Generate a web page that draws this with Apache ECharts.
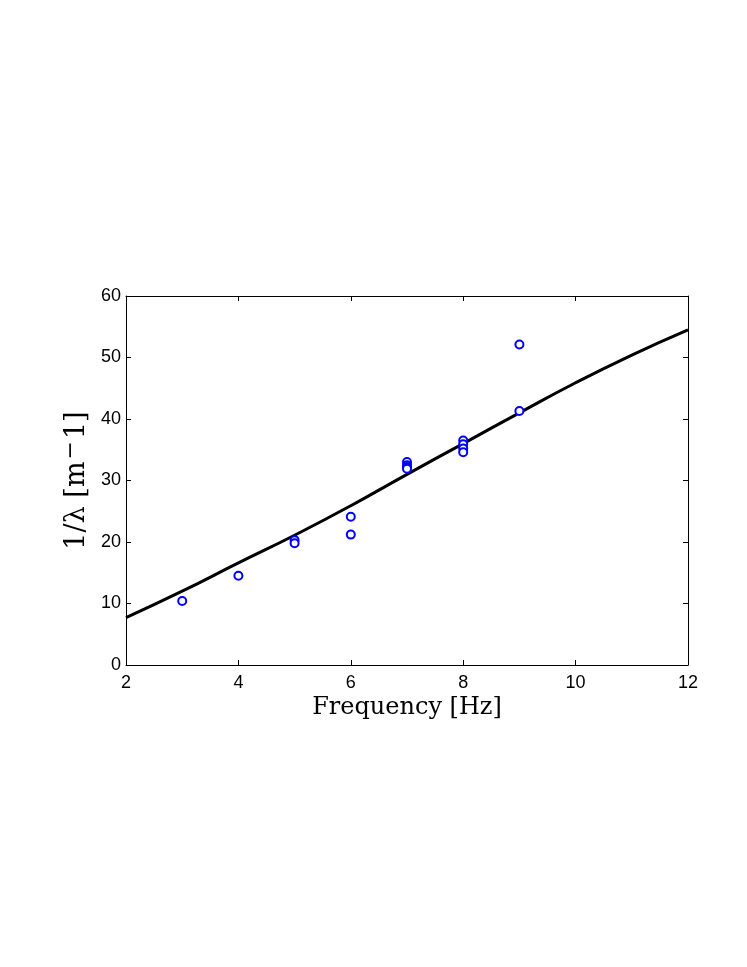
<!DOCTYPE html>
<html>
<head>
<meta charset="utf-8">
<script src="https://cdn.jsdelivr.net/npm/echarts@6/dist/echarts.min.js"></script>
<style>html,body{margin:0;padding:0;background:#fff;}#c{width:747px;height:967px;}</style>
</head>
<body>
<div id="c"></div>
<script>
// Measured data (frequency Hz, 1/lambda m^-1)
const measFreq = [3, 4, 5, 5, 6, 6, 7, 7, 7, 7, 8, 8, 8, 8, 9, 9];
const measVal  = [10.4, 14.5, 20.3, 19.8, 24.1, 21.2, 33.0, 32.5, 32.2, 31.9, 36.5, 35.9, 35.2, 34.6, 52.1, 41.3];
// Model curve
const curveFreq = [2, 3, 4, 5, 6, 7, 8, 9, 10, 11, 12];
const curveVal  = [7.7, 12.0, 16.6, 21.1, 25.9, 31.0, 36.0, 41.0, 45.9, 50.4, 54.5];
const xTicks = [2, 4, 6, 8, 10, 12];
const yTicks = [0, 10, 20, 30, 40, 50, 60];

const chart = echarts.init(document.getElementById('c'), null, {renderer: 'canvas'});
const tickFont = () => ({fontFamily: 'Liberation Sans', fontSize: 18, color: '#000'});
const axisLine = () => ({show: true, onZero: false, lineStyle: {color: '#000', width: 1}});
const axisTick = () => ({show: true, inside: true, length: 5, lineStyle: {color: '#000', width: 1}});
chart.setOption({
  animation: false,
  backgroundColor: '#fff',
  grid: {left: 126, right: 59, top: 296, bottom: 302, containLabel: false},
  xAxis: [{
    type: 'value', position: 'bottom', min: xTicks[0], max: xTicks[xTicks.length - 1], interval: 2,
    axisLine: axisLine(), axisTick: axisTick(), splitLine: {show: false},
    axisLabel: Object.assign({margin: 9}, tickFont()),
    name: 'Frequency [Hz]', nameLocation: 'middle', nameGap: 31,
    nameTextStyle: {fontFamily: 'DejaVu Serif', fontSize: 24, color: '#000'}
  }, {
    type: 'value', position: 'top', min: xTicks[0], max: xTicks[xTicks.length - 1], interval: 2,
    axisLine: axisLine(), axisTick: axisTick(), axisLabel: {show: false}, splitLine: {show: false}
  }],
  yAxis: [{
    type: 'value', position: 'left', min: yTicks[0], max: yTicks[yTicks.length - 1], interval: 10,
    axisLine: axisLine(), axisTick: axisTick(), splitLine: {show: false},
    axisLabel: Object.assign({margin: 5}, tickFont()),
    name: '1/λ [m{sup|−}1]', nameLocation: 'middle', nameGap: 23, nameRotate: 90,
    nameTextStyle: {fontFamily: 'DejaVu Serif', fontSize: 27, color: '#000',
      rich: {sup: {fontFamily: 'DejaVu Serif', fontSize: 22, color: '#000', verticalAlign: 'top', padding: [0, 2, 10, 2]}}}
  }, {
    type: 'value', position: 'right', min: yTicks[0], max: yTicks[yTicks.length - 1], interval: 10,
    axisLine: axisLine(), axisTick: axisTick(), axisLabel: {show: false}, splitLine: {show: false}
  }],
  series: [{
    type: 'line', smooth: true, showSymbol: false, symbol: 'none',
    data: curveFreq.map((f, i) => [f, curveVal[i]]),
    lineStyle: {color: '#000', width: 3}, z: 2
  }, {
    type: 'scatter', symbol: 'emptyCircle', symbolSize: 8,
    data: measFreq.map((f, i) => [f, measVal[i]]),
    itemStyle: {color: '#0000ff', borderColor: '#0000ff', borderWidth: 1.3, opacity: 1}, z: 3
  }]
});
</script>
</body>
</html>
